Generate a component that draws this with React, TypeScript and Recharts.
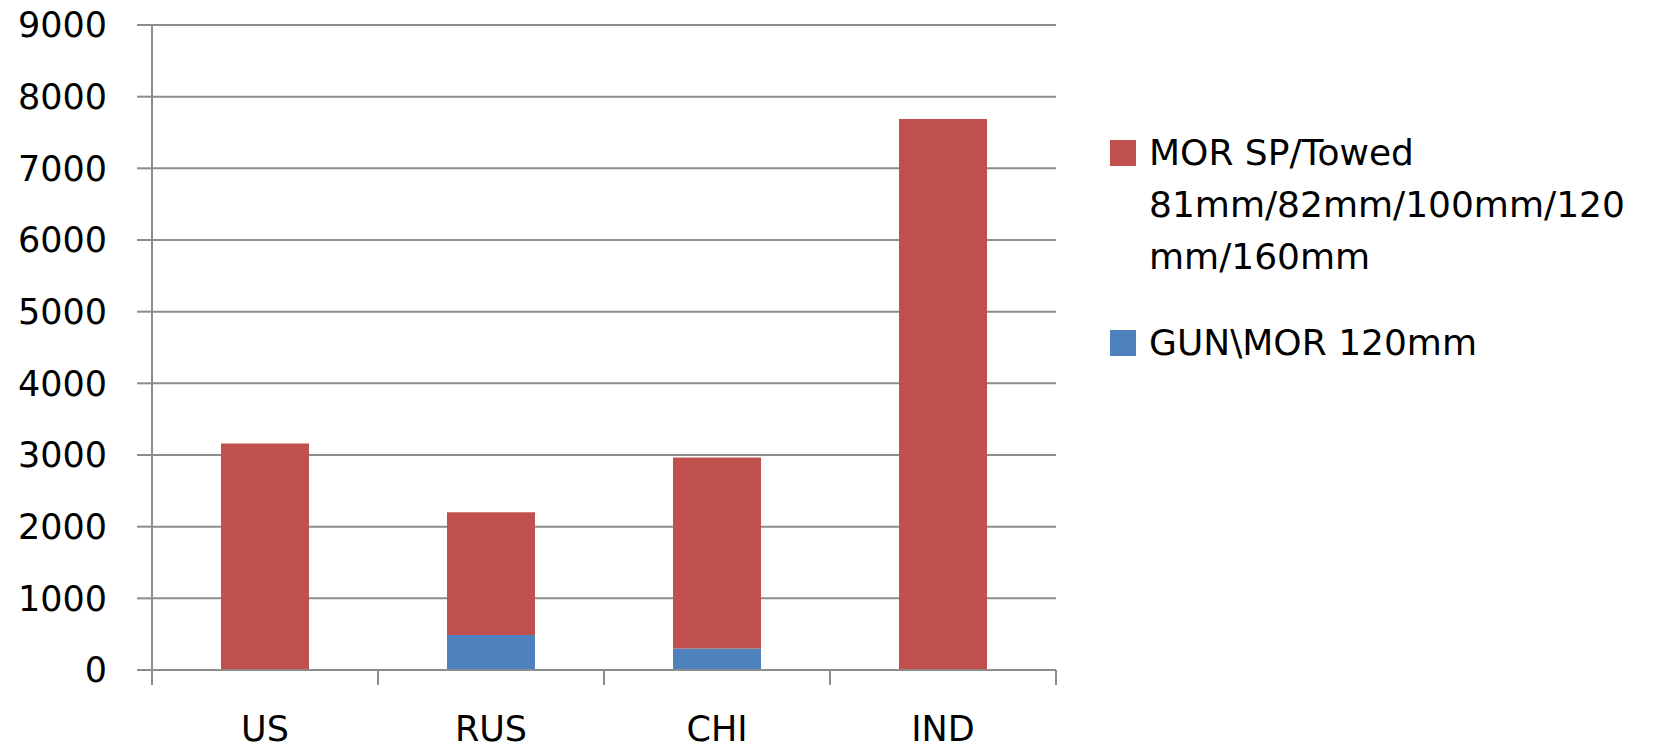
import React from 'react';
import { BarChart, Bar, XAxis, YAxis, CartesianGrid, Legend } from 'recharts';

const categories = ['US', 'RUS', 'CHI', 'IND'];
const morSpTowed = [3160, 1710, 2665, 7690];
const gunMor = [0, 490, 300, 0];
const yTicks = [0, 1000, 2000, 3000, 4000, 5000, 6000, 7000, 8000, 9000];

const MOR_NAME = 'MOR SP/Towed 81mm/82mm/100mm/120mm/160mm';
const GUN_NAME = 'GUN\\MOR 120mm';
// legend text wraps the way the original does
const legendLines: Record<string, string[]> = {
  [MOR_NAME]: ['MOR SP/Towed', '81mm/82mm/100mm/120', 'mm/160mm'],
  [GUN_NAME]: ['GUN\\MOR 120mm'],
};
const legendOrder = [MOR_NAME, GUN_NAME];

const data = categories.map((c, i) => ({
  country: c,
  mor: morSpTowed[i],
  gun: gunMor[i],
}));

const FONT = '"DejaVu Sans", sans-serif';
const GRID = '#8c8c8c';

const LegendContent = (props: any) => {
  const items = [...(props.payload || [])].sort(
    (a: any, b: any) => legendOrder.indexOf(a.value) - legendOrder.indexOf(b.value)
  );
  return (
    <div style={{ fontFamily: FONT, fontSize: 36, color: '#000', lineHeight: '52px' }}>
      {items.map((entry: any, i: number) => (
        <div key={entry.value} style={{ display: 'flex', alignItems: 'flex-start', marginTop: i === 0 ? 0 : 34 }}>
          <div style={{ width: 26, height: 26, background: entry.color, marginTop: 13, marginRight: 13, flexShrink: 0 }} />
          <div style={{ whiteSpace: 'nowrap' }}>
            {(legendLines[entry.value] || [entry.value]).map((line) => (
              <div key={line}>{line}</div>
            ))}
          </div>
        </div>
      ))}
    </div>
  );
};

// category label plus the tick marks on the band edges (Excel style)
const CategoryTick = (props: any) => {
  const { x, y, payload, index, visibleTicksCount } = props;
  const half = payload?.offset ?? 0;
  const axisY = y - 46;
  const isLast = index === (visibleTicksCount ?? categories.length) - 1;
  return (
    <g>
      <line x1={x - half} x2={x - half} y1={axisY} y2={axisY + 15} stroke={GRID} strokeWidth={2} />
      {isLast && <line x1={x + half} x2={x + half} y1={axisY} y2={axisY + 15} stroke={GRID} strokeWidth={2} />}
      <text x={x} y={y} dy="0.71em" textAnchor="middle" fontFamily={FONT} fontSize={35} fill="#000">
        {payload.value}
      </text>
    </g>
  );
};

const App: React.FC = () => {
  return (
    <div style={{ position: 'absolute', left: 0, top: 0, background: '#fff' }}>
      <BarChart
        width={1653}
        height={748}
        data={data}
        margin={{ top: 25, right: 597, bottom: 0, left: 0 }}
        barSize={88}
      >
        <CartesianGrid vertical={false} stroke={GRID} strokeWidth={2} />
        <XAxis
          dataKey="country"
          axisLine={{ stroke: GRID, strokeWidth: 2 }}
          tickLine={false}
          tickSize={0}
          tickMargin={46}
          height={78}
          interval={0}
          tick={<CategoryTick />}
        />
        <YAxis
          domain={[0, 9000]}
          ticks={yTicks}
          interval={0}
          width={152}
          axisLine={{ stroke: GRID, strokeWidth: 2 }}
          tickLine={{ stroke: GRID, strokeWidth: 2 }}
          tickSize={15}
          tickMargin={30}
          tick={{ fontFamily: FONT, fontSize: 35, fill: '#000' }}
        />
        <Legend
          content={<LegendContent />}
          layout="horizontal"
          verticalAlign="middle"
          align="center"
          wrapperStyle={{ position: 'absolute', left: 1110, top: 127, width: 540 }}
        />
        <Bar dataKey="gun" name={GUN_NAME} stackId="a" fill="#4F81BD" isAnimationActive={false} />
        <Bar dataKey="mor" name={MOR_NAME} stackId="a" fill="#C0504D" isAnimationActive={false} />
      </BarChart>
    </div>
  );
};

export default App;
